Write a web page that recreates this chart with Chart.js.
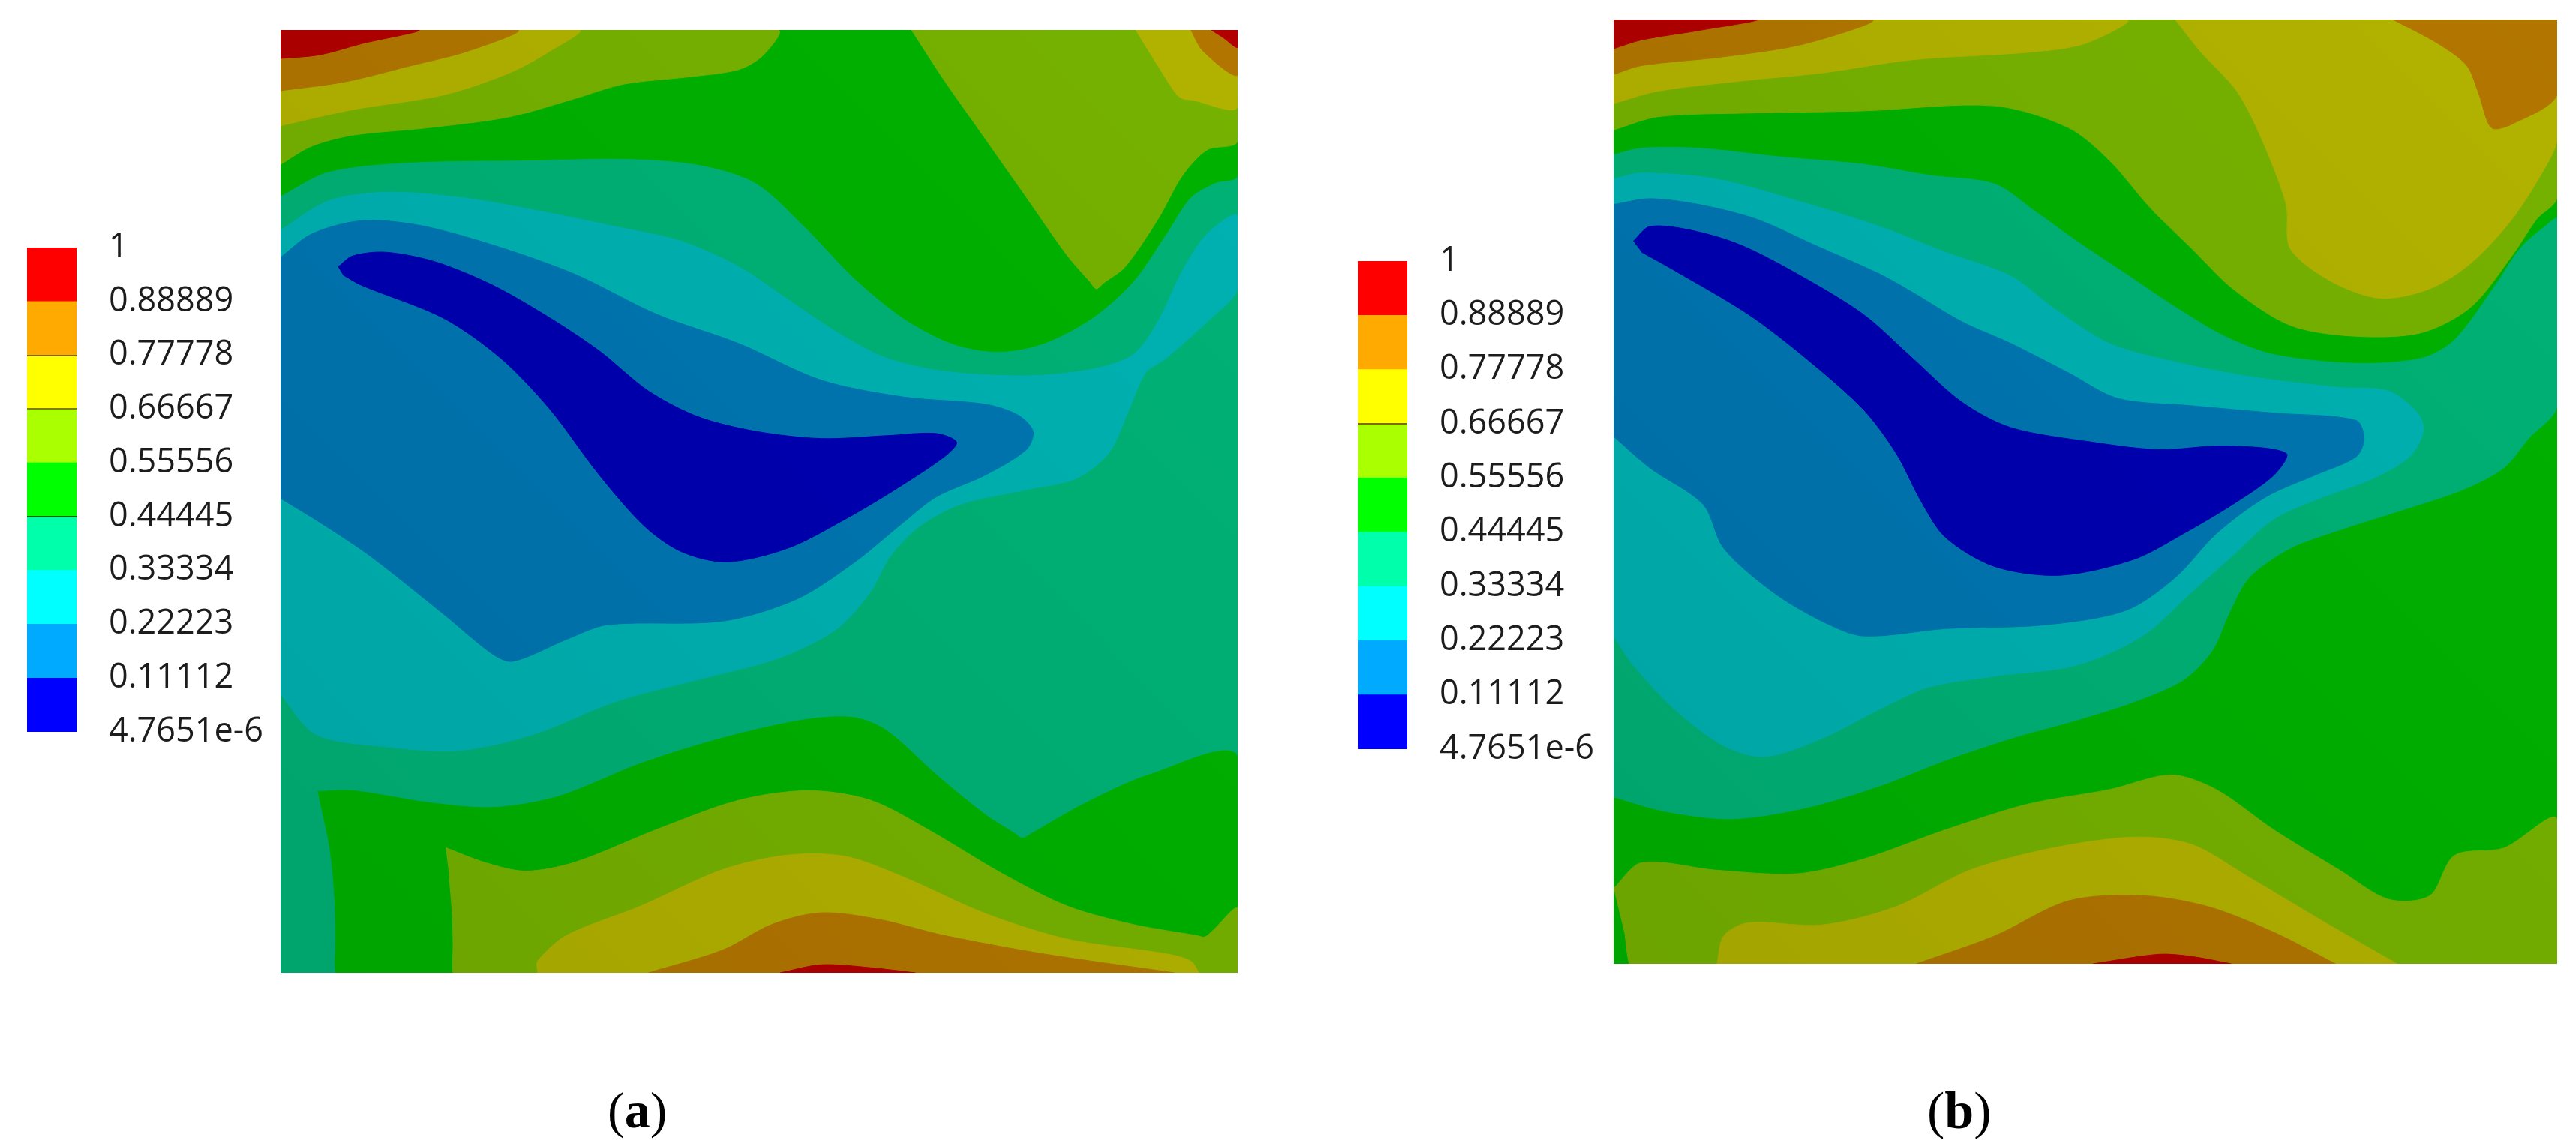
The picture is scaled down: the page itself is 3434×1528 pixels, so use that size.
<!DOCTYPE html>
<html><head><meta charset="utf-8">
<style>
html,body{margin:0;padding:0;background:#fff;width:3434px;height:1528px;overflow:hidden}
canvas{position:absolute;display:block}
.cap{position:absolute;font-family:"Liberation Serif",serif;color:#000;line-height:1;white-space:nowrap}
.cap b{font-weight:700}
</style>
<script src="https://cdn.jsdelivr.net/npm/chart.js@4"></script>
</head><body>
<canvas id="legA"></canvas><canvas id="plotA"></canvas>
<canvas id="legB"></canvas><canvas id="plotB"></canvas>
<div class="cap" style="left:810px;top:1446px;font-size:68px">(<b>a</b>)</div>
<div class="cap" style="left:2569px;top:1446px;font-size:70px">(<b>b</b>)</div>
<script>
// colour bar
const levelValues=[4.7651e-6,0.11112,0.22223,0.33334,0.44445,0.55556,0.66667,0.77778,0.88889,1];
const levelLabels=["4.7651e-6","0.11112","0.22223","0.33334","0.44445","0.55556","0.66667","0.77778","0.88889","1"];
const legendColors=["#0000ff","#00aaff","#00ffff","#00ffaa","#00ff00","#aaff00","#ffff00","#ffaa00","#ff0000"];
const shadeBlue="#0000b2",shadeAzure="#0076b2",shadeCyan="#00b2b2",shadeSpring="#00b276",shadeGreen="#00b200",shadeLime="#76b200",shadeYellow="#b2b200",shadeOrange="#b27600",shadeRed="#b20000";

// panel (a) domain, contour outlines as x,y pairs
const aDomain=[1165,1290];
const aBase=[0,0,1165,0,1165,1290,0,1290];
const aGreenTop=[0,1063,58,1096,158,1109,308,1112,418,1114,508,1106,578,1081,638,1021,698,951,758,896,818,861,873,850,928,861,988,896,1038,946,1078,1011,1108,1061,1138,1081,1165,1091,1165,1290,0,1290];
const aLimeUR=[768,1290,808,1221,858,1141,908,1061,958,981,985,946,993,936,1002,944,1028,966,1068,1031,1098,1091,1128,1126,1165,1138,1165,1290];
const aYellowUR=[1041,1290,1068,1241,1090,1203,1098,1196,1110,1194,1165,1184,1165,1290];
const aOrangeUR=[1108,1290,1123,1261,1165,1228,1165,1290];
const aRedUR=[1133,1290,1148,1279,1165,1266,1165,1290];
const aLimeUL=[0,1106,38,1131,88,1146,178,1156,278,1171,358,1196,418,1216,498,1226,558,1236,588,1256,605,1290,0,1290];
const aYellowUL=[0,1159,88,1181,198,1201,278,1231,328,1261,363,1290,0,1290];
const aOrangeUL=[0,1207,78,1219,158,1241,228,1261,288,1290,0,1290];
const aRedUL=[0,1251,48,1256,98,1271,168,1290,0,1290];
const aCyan=[0,1016,58,1056,128,1068,218,1061,308,1044,408,1021,488,1001,558,966,618,921,678,876,738,841,808,823,908,817,988,826,1038,846,1068,891,1098,961,1128,1011,1165,1036,1165,936,1128,891,1078,841,1053,821,1033,771,1008,711,968,676,908,661,828,641,778,611,743,571,718,521,678,471,608,431,508,401,408,371,308,326,218,304,128,309,43,326,0,381];
const aAzure=[0,979,38,1011,98,1029,168,1023,258,996,358,956,458,901,558,861,658,811,758,788,858,778,898,763,916,741,908,716,858,681,798,651,758,616,698,561,628,511,538,481,398,476,348,456,283,426,258,436,198,491,108,571,48,616,0,649];
const aBlue=[70,966,88,981,128,986,188,973,258,941,328,896,388,851,448,796,508,761,578,741,658,731,738,735,798,738,823,726,808,706,748,661,688,621,618,581,543,562,488,576,443,611,388,681,328,771,268,841,198,896,98,941,76,955];
const aGreenLow=[45,248,88,249,178,233,258,226,338,241,438,286,538,321,638,346,698,349,738,331,798,271,858,216,893,191,903,184,915,191,978,231,1058,271,1165,296,1165,0,72,0,67,0,67,40,66,101,60,170,47,240];
const aLimeLow=[201,171,248,151,298,139,358,151,458,196,558,236,643,249,718,236,788,196,878,136,958,91,1038,66,1115,51,1125,49,1135,58,1165,88,1165,0,215,0,210,0,210,40,209,81,205,135];
const aYellowLow=[313,0,313,16,348,51,438,91,538,141,618,161,688,159,758,131,858,81,958,46,1078,26,1108,16,1118,0];
const aOrangeLow=[448,0,538,31,598,66,658,82,728,73,808,51,928,26,1088,0];
const aRedLow=[608,0,658,11,718,7,773,0];

// panel (b)
const bDomain=[1149,1291];
const bBase=[0,0,1149,0,1149,1291,0,1291];
const bSpring=[0,1106,34,1115,104,1115,204,1103,304,1093,384,1078,464,1066,514,1028,564,988,624,943,684,898,744,858,804,833,904,821,984,828,1024,853,1074,928,1104,978,1134,1008,1149,1018,1149,763,1114,718,1084,678,1034,648,954,618,884,593,824,568,774,528,749,478,729,428,694,388,634,358,564,333,484,308,404,278,324,243,234,213,144,198,64,208,0,228];
const bLimeTop=[0,1140,54,1158,164,1163,304,1166,464,1173,554,1143,604,1098,654,1033,704,978,754,923,824,873,904,858,984,863,1044,898,1094,968,1124,1018,1149,1048,1149,1291,0,1291];
const bYellowL=[0,1176,54,1193,164,1208,254,1218,364,1236,504,1246,574,1258,624,1291,0,1291];
const bYellowR=[684,1291,714,1248,759,1193,789,1128,819,1038,824,978,874,933,934,910,994,923,1044,958,1094,1018,1134,1088,1149,1128,1149,1291];
const bOrangeL=[0,1216,34,1228,134,1240,234,1258,314,1291,0,1291];
const bOrangeR=[949,1291,1004,1258,1039,1228,1054,1188,1069,1143,1094,1148,1149,1188,1149,1291];
const bRedL=[0,1251,34,1263,104,1276,174,1291,0,1291];
const bCyan=[0,1073,34,1081,124,1073,224,1043,324,1008,404,973,484,940,534,898,604,848,684,823,774,803,884,788,944,783,979,753,986,728,969,693,924,663,864,638,804,608,754,558,704,508,644,448,564,408,464,393,384,378,324,348,254,308,184,283,134,298,74,348,24,408,0,448];
const bAzure=[0,1038,44,1046,104,1038,174,1018,244,983,324,943,364,918,424,878,484,848,554,808,614,773,704,763,804,753,904,743,914,718,904,693,854,668,794,638,734,588,684,528,624,483,524,463,404,458,304,448,254,468,194,508,134,568,109,628,44,678,0,721];
const bBlue=[24,988,44,1008,94,1003,154,983,224,943,304,888,364,828,424,768,484,733,584,713,664,703,744,708,819,698,804,668,754,628,694,588,634,553,544,531,464,543,404,583,374,633,344,698,304,758,234,828,164,888,74,948,34,973];
const bLimeLow=[0,103,34,138,124,128,224,123,304,143,404,183,504,218,604,238,679,258,734,238,804,183,884,128,944,88,994,93,1024,148,1084,158,1149,198,1149,0,24,0,19,0,14,38];
const bYellowLow=[126,0,134,38,164,56,254,53,344,78,434,128,534,158,634,173,704,163,774,118,864,58,954,0];
const bOrangeLow=[369,0,464,38,554,86,644,93,724,78,804,43,879,0];
const bRedLow=[584,0,664,13,704,10,752,0];

const aLayers=[[aBase,shadeSpring],[aGreenTop,shadeGreen],[aLimeUR,shadeLime],[aYellowUR,shadeYellow],[aOrangeUR,shadeOrange],[aRedUR,shadeRed],[aLimeUL,shadeLime],[aYellowUL,shadeYellow],[aOrangeUL,shadeOrange],[aRedUL,shadeRed],[aCyan,shadeCyan],[aAzure,shadeAzure],[aBlue,shadeBlue],[aGreenLow,shadeGreen],[aLimeLow,shadeLime],[aYellowLow,shadeYellow],[aOrangeLow,shadeOrange],[aRedLow,shadeRed]];
const bLayers=[[bBase,shadeGreen],[bSpring,shadeSpring],[bLimeTop,shadeLime],[bYellowL,shadeYellow],[bYellowR,shadeYellow],[bOrangeL,shadeOrange],[bOrangeR,shadeOrange],[bRedL,shadeRed],[bCyan,shadeCyan],[bAzure,shadeAzure],[bBlue,shadeBlue],[bLimeLow,shadeLime],[bYellowLow,shadeYellow],[bOrangeLow,shadeOrange],[bRedLow,shadeRed]];
const aLegendLines={"0.77778":"#7d6b00","0.66667":"#7d7d00","0.44445":"#006a00"};
const bLegendLines={"0.66667":"#7d6b00"};

// soft lighting over the contour field: brightest at top right
const lighting={id:'lighting',afterDatasetsDraw(chart){
  const {ctx,chartArea:a}=chart;
  const g=ctx.createLinearGradient(a.right,a.top,a.left,a.bottom);
  g.addColorStop(0,'#ffffff');g.addColorStop(1,'#ebebeb');
  ctx.save();ctx.globalCompositeOperation='multiply';ctx.fillStyle=g;
  ctx.fillRect(a.left,a.top,a.right-a.left,a.bottom-a.top);ctx.restore();
}};

function place(id,l,t,w,h){const c=document.getElementById(id);c.width=w;c.height=h;c.style.left=l+'px';c.style.top=t+'px';c.style.width=w+'px';c.style.height=h+'px';return c;}
function toPoints(flat){const p=[];for(let i=0;i<flat.length;i+=2)p.push({x:flat[i],y:flat[i+1]});return p;}
function plot(id,l,t,w,h,domain,layers,tension){
  // Chart.js paints dataset 0 last, so the painter's order is given through `order`
  new Chart(place(id,l,t,w,h),{type:'scatter',plugins:[lighting],
    data:{datasets:layers.map(([f,c],i)=>({data:toPoints(f),order:layers.length-i,showLine:true,fill:'shape',backgroundColor:c,borderColor:c,borderWidth:1,pointRadius:0,tension}))},
    options:{responsive:false,animation:false,events:[],layout:{padding:0},
      plugins:{legend:{display:false},tooltip:{enabled:false}},
      scales:{x:{type:'linear',display:false,min:0,max:domain[0]},y:{type:'linear',display:false,min:0,max:domain[1]}}}});
}
function colourBar(id,l,t,h,lines){
  const pad=70;
  new Chart(place(id,l,t-pad,336,h+2*pad),{type:'bar',
    data:{labels:[''],datasets:legendColors.map((c,i)=>({data:[levelValues[i+1]-(i?levelValues[i]:0)],backgroundColor:c,borderWidth:0,barPercentage:1,categoryPercentage:1}))},
    options:{responsive:false,animation:false,events:[],layout:{padding:0},
      plugins:{legend:{display:false},tooltip:{enabled:false}},
      scales:{x:{display:false,stacked:true},
        y:{stacked:true,position:'right',min:levelValues[0],max:1,
          afterBuildTicks:s=>{s.ticks=levelValues.map(v=>({value:v}));},
          afterFit:s=>{s.width=270;},
          border:{display:false},
          grid:{z:1,drawTicks:false,lineWidth:2,color:c=>lines[levelLabels[c.index]]||'rgba(0,0,0,0)'},
          ticks:{autoSkip:false,padding:43,color:'#1c1c1c',font:{family:'"Open Sans"',size:45},callback:(v,i)=>levelLabels[i]}}}}});
}
plot('plotA',374,40,1276,1257,aDomain,aLayers,0.3);
plot('plotB',2151,26,1258,1259,bDomain,bLayers,0.3);
colourBar('legA',36,330,646,aLegendLines);
colourBar('legB',1810,348,651,bLegendLines);
</script>
</body></html>
